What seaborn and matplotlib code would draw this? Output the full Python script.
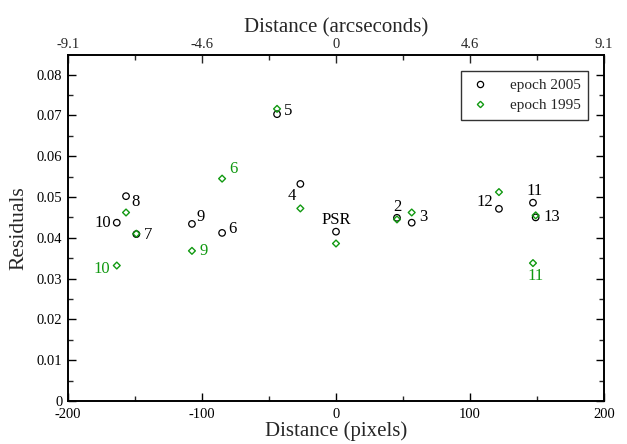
import matplotlib
matplotlib.use("Agg")
import matplotlib.pyplot as plt
import seaborn as sns
import pandas as pd
from matplotlib.lines import Line2D
from matplotlib.ticker import MultipleLocator, FixedLocator

# ---- data ----
labels = ["10", "8", "7", "9", "6", "5", "4", "PSR", "2", "3", "12", "11", "13"]
x_pix = [-163.6, -156.7, -149.0, -107.5, -85.0, -44.0, -26.6, 0.0, 45.5, 56.5, 121.6, 147.0, 149.0]
res_2005 = [0.0437, 0.0502, 0.0409, 0.0434, 0.0412, 0.0703, 0.0532, 0.0415, 0.0449, 0.0437, 0.0471, 0.0486, 0.0450]
res_1995 = [0.0332, 0.0462, 0.0410, 0.0368, 0.0545, 0.0716, 0.0472, 0.0386, 0.0445, 0.0462, 0.0512, 0.0338, 0.0455]
top_ticks = [-200, -100, 0, 100, 200]
top_labels = ["-9.1", "-4.6", "0", "4.6", "9.1"]

# label offsets (pixels) and alignment
lab05 = {
    "10": (-6, 0, "right"), "8": (5, -6, "left"), "7": (8, -1, "left"),
    "9": (5, 7, "left"), "6": (6, 4, "left"), "5": (7, 3, "left"),
    "4": (-4, -12, "right"), "PSR": (0, 12, "center"), "2": (0, 11, "center"),
    "3": (7, 6, "left"), "12": (-6, 7, "right"), "11": (2, 12, "center"),
    "13": (8, 0, "left"),
}
lab95 = {
    "10": (-7, -3, "right"), "9": (8, 0, "left"), "6": (7, 10, "left"),
    "11": (3, -13, "center"),
}

GREEN = "#119911"

df = pd.DataFrame({"label": labels, "x": x_pix, "y05": res_2005, "y95": res_1995})

sns.set_theme(style="ticks")
plt.rcParams["font.family"] = ["Liberation Serif", "DejaVu Serif"]

fig = plt.figure(figsize=(6.27, 4.44), dpi=100)
ax = fig.add_axes([68 / 627, 1 - 401 / 444, (604 - 68) / 627, (401 - 55) / 444])

sns.scatterplot(data=df, x="x", y="y05", ax=ax, marker="o", s=22,
                facecolor="none", edgecolor="black", linewidth=0.9, zorder=3)
sns.scatterplot(data=df, x="x", y="y95", ax=ax, marker="D", s=12,
                facecolor="none", edgecolor=GREEN, linewidth=1.0, zorder=4)

fs_lab = 12
for _, r in df.iterrows():
    if r["label"] in lab05:
        dx, dy, ha = lab05[r["label"]]
        ax.annotate(r["label"], (r["x"], r["y05"]), xytext=(dx, dy),
                    textcoords="offset pixels", ha=ha, va="center",
                    fontsize=fs_lab, color="black")
    if r["label"] in lab95:
        dx, dy, ha = lab95[r["label"]]
        ax.annotate(r["label"], (r["x"], r["y95"]), xytext=(dx, dy),
                    textcoords="offset pixels", ha=ha, va="center",
                    fontsize=fs_lab, color=GREEN)

ax.set_xlim(-200, 200)
ax.set_ylim(0, 0.0848)
ax.xaxis.set_minor_locator(MultipleLocator(50))
ax.yaxis.set_minor_locator(MultipleLocator(0.005))
ax.set_xticks([-200, -100, 0, 100, 200])
ax.set_xticklabels(["-200", "-100", "0", "100", "200"])
ax.set_yticks([0, 0.01, 0.02, 0.03, 0.04, 0.05, 0.06, 0.07, 0.08])
ax.set_yticklabels(["0", "0.01", "0.02", "0.03", "0.04", "0.05", "0.06", "0.07", "0.08"])
ax.tick_params(which="major", direction="in", length=6, width=1, labelsize=10.5,
               right=True, pad=4, colors="black")
ax.tick_params(axis="x", which="major", pad=5)
ax.tick_params(which="minor", direction="in", length=3.5, width=1, right=True)
for s in ax.spines.values():
    s.set_linewidth(1.2)
    s.set_color("black")
ax.set_xlabel("Distance (pixels)", fontsize=15, labelpad=0)
ax.set_ylabel("Residuals", fontsize=15.5, labelpad=6)

ax2 = ax.twiny()
ax2.set_xlim(ax.get_xlim())
ax2.xaxis.set_major_locator(FixedLocator(top_ticks))
ax2.set_xticklabels(top_labels)
ax2.xaxis.set_minor_locator(MultipleLocator(50))
ax2.tick_params(which="major", direction="in", length=6, width=1, labelsize=10.5, pad=3)
ax2.tick_params(which="minor", direction="in", length=3.5, width=1)
ax2.set_xlabel("Distance (arcseconds)", fontsize=15, labelpad=4)
for s in ax2.spines.values():
    s.set_linewidth(1.2)
    s.set_color("black")

handles = [
    Line2D([], [], marker="o", ls="none", mfc="none", mec="black", ms=4.5, mew=0.9),
    Line2D([], [], marker="D", ls="none", mfc="none", mec=GREEN, ms=3.2, mew=1.0),
]
leg = ax.legend(handles, ["epoch 2005", "epoch 1995"], loc="upper right",
                bbox_to_anchor=(0.985, 0.977), fontsize=11, frameon=True,
                fancybox=False, edgecolor="black", handletextpad=1.2,
                borderpad=0.5, labelspacing=0.45, handlelength=1.5)
leg.get_frame().set_linewidth(1.0)

fig.savefig("out.png", dpi=100)
